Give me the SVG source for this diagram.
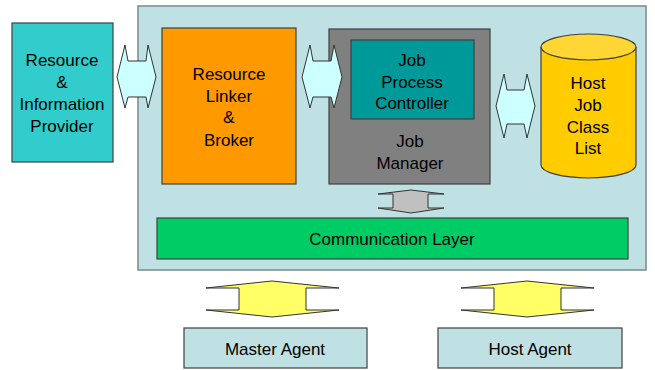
<svg xmlns="http://www.w3.org/2000/svg" width="655" height="370" viewBox="0 0 655 370">
  <style>
    .box { stroke: #404040; stroke-width: 1.2; }
    .lbl { font-family: "Liberation Sans", Arial, sans-serif; font-size: 17px; fill: #000; text-anchor: middle; dominant-baseline: central; }
    .arr { stroke: #333; stroke-width: 1; stroke-linejoin: miter; }
    .cyanArr { fill: #CCFFFF; }
    .grayArr { fill: #C0C0C0; }
    .yelArr { fill: #FFFF66; }
  </style>
  <rect width="655" height="370" fill="#FFFFFF"/>

  <!-- outer system container -->
  <g id="system">
    <rect x="138" y="6" width="508" height="264" fill="#BFE1E4" stroke="#7A8A8C" stroke-width="1.5"/>
  </g>

  <g id="provider">
    <rect class="box" x="12" y="23" width="101" height="139" fill="#33CCCC"/>
    <text class="lbl" x="62" y="60">Resource</text>
    <text class="lbl" x="62" y="82">&amp;</text>
    <text class="lbl" x="62" y="104">Information</text>
    <text class="lbl" x="62" y="126">Provider</text>
  </g>

  <g id="linker">
    <rect class="box" x="162" y="28" width="134" height="156" fill="#FF9900"/>
    <text class="lbl" x="229" y="74">Resource</text>
    <text class="lbl" x="229" y="96">Linker</text>
    <text class="lbl" x="229" y="117">&amp;</text>
    <text class="lbl" x="229" y="140">Broker</text>
  </g>

  <g id="job-manager">
    <rect class="box" x="329" y="29" width="161" height="155" fill="#808080"/>
    <text class="lbl" x="410" y="141">Job</text>
    <text class="lbl" x="410" y="163">Manager</text>
  </g>

  <g id="job-process-controller">
    <rect class="box" x="351" y="40" width="123" height="79" fill="#009999"/>
    <text class="lbl" x="412" y="60">Job</text>
    <text class="lbl" x="412" y="82">Process</text>
    <text class="lbl" x="412" y="103">Controller</text>
  </g>

  <g id="host-job-class-list">
    <path class="box" d="M541,47 L541,165 A47.5,13 0 0 0 636,165 L636,47" fill="#FFCC00"/>
    <ellipse class="box" cx="588.5" cy="47" rx="47.5" ry="13" fill="#FFD633"/>
    <text class="lbl" x="588" y="83">Host</text>
    <text class="lbl" x="588" y="105">Job</text>
    <text class="lbl" x="588" y="127">Class</text>
    <text class="lbl" x="588" y="148">List</text>
  </g>

  <g id="communication-layer">
    <rect class="box" x="157" y="218" width="471" height="41" fill="#00CC66"/>
    <text class="lbl" x="392" y="239">Communication Layer</text>
  </g>

  <g id="master-agent">
    <rect class="box" x="184" y="328" width="183" height="40" fill="#BFE1E4"/>
    <text class="lbl" x="275" y="349">Master Agent</text>
  </g>

  <g id="host-agent">
    <rect class="box" x="438" y="328" width="184" height="40" fill="#BFE1E4"/>
    <text class="lbl" x="530" y="349">Host Agent</text>
  </g>

  <!-- double-headed connectors -->
  <g id="connectors">
    <polygon class="arr cyanArr" points="117,77 125,45 128,61 146,61 148,45 156,77 148,108 146,97 128,97 125,108"/>
    <polygon class="arr cyanArr" points="302,77 310,45 313,61 331,61 334,45 342,77 334,108 331,97 313,97 310,108"/>
    <polygon class="arr cyanArr" points="496,106 504,74 507,90 524,90 527,74 535,106 527,138 524,124 507,124 504,138"/>
    <polygon class="arr grayArr" points="411,190 444,194 428,194 428,208 444,208 411,213 378,208 393,208 393,194 378,194"/>
    <polygon class="arr yelArr" points="272,281 339,288 306,288 306,310 339,310 272,317 206,310 239,310 239,288 206,288"/>
    <polygon class="arr yelArr" points="527,281 594,288 561,288 561,310 594,310 527,317 461,310 494,310 494,288 461,288"/>
  </g>
</svg>
